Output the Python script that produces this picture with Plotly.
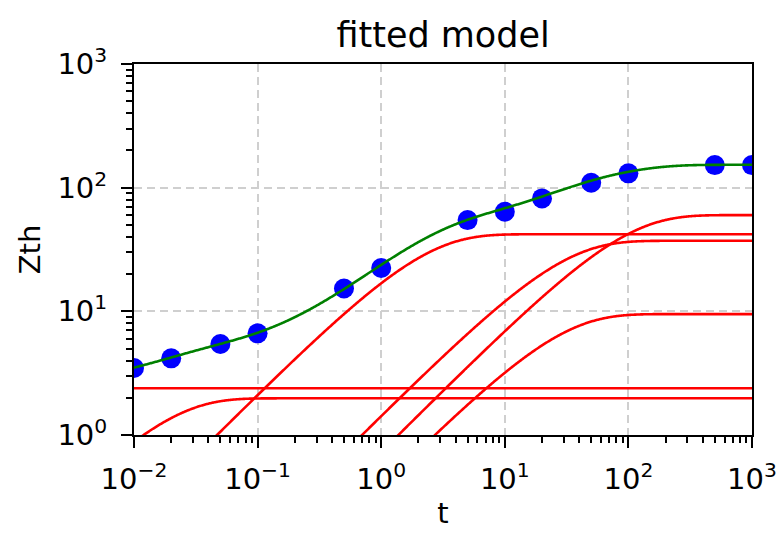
import numpy as np
import plotly.graph_objects as go

# measured data points (t, Zth)
t_data = [0.01, 0.02, 0.05, 0.1, 0.5, 1, 5, 10, 20, 50, 100, 500, 1000]
z_data = [3.48, 4.17, 5.44, 6.64, 15.3, 22.4, 54.7, 63.9, 81.9, 109.6, 130.6, 152.3, 152.3]

# fitted Foster-network components: thermal resistance R_i and time constant tau_i
R_comp = [2.385, 1.98, 42.0, 37.2, 60.0, 9.5]
tau_comp = [1e-4, 0.017, 1.95, 25.7, 82.0, 24.5]

# axis ticks
major_vals = [0.01, 0.1, 1, 10, 100, 1000]
x_ticktext = ["10<sup>−2</sup>", "10<sup>−1</sup>", "10<sup>0</sup>", "10<sup>1</sup>", "10<sup>2</sup>", "10<sup>3</sup>"]
y_vals = [1, 10, 100, 1000]
y_ticktext = ["10<sup>0</sup>", "10<sup>1</sup>", "10<sup>2</sup>", "10<sup>3</sup>"]

t_grid = np.logspace(-2, 3, 800)
components = [R * (1 - np.exp(-t_grid / tau)) for R, tau in zip(R_comp, tau_comp)]
model = np.sum(components, axis=0)

fig = go.Figure()
fig.add_trace(go.Scatter(x=t_data, y=z_data, mode="markers",
                         marker=dict(color="#0000ff", size=20, line=dict(width=0)),
                         showlegend=False))
fig.add_trace(go.Scatter(x=t_grid, y=model, mode="lines",
                         line=dict(color="#008000", width=2.6, simplify=False), showlegend=False))
for comp in components:
    fig.add_trace(go.Scatter(x=t_grid, y=comp, mode="lines",
                             line=dict(color="#ff0000", width=2.6, simplify=False), showlegend=False))

def minor_list(lo, hi):
    out = []
    for e in range(lo, hi):
        for k in range(2, 10):
            out.append(k * 10.0 ** e)
    return out

font = dict(family="DejaVu Sans", color="black")
axis_common = dict(
    type="log", ticks="outside", ticklen=11, tickwidth=2, tickcolor="black",
    showline=True, linecolor="black", linewidth=2, mirror=True,
    showgrid=True, gridcolor="#cfcfcf", gridwidth=1.5, griddash="8px,5px",
    zeroline=False, tickfont=dict(size=29, **font),
)

fig.update_layout(
    width=779, height=533,
    margin=dict(l=134, r=27, t=64, b=98),
    paper_bgcolor="white", plot_bgcolor="white",
    title=dict(text="fitted model", x=0.5688, xanchor="center", y=0.934, yanchor="middle",
               font=dict(size=35, **font)),
    xaxis=dict(range=[-2, 3], tickvals=major_vals, ticktext=x_ticktext,
               minor=dict(tickvals=minor_list(-2, 3), ticks="outside", ticklen=6,
                          tickwidth=1.5, tickcolor="black", showgrid=False),
               title=dict(text="t", font=dict(size=29, **font), standoff=8),
               ticklabelstandoff=6, automargin=False, **axis_common),
    yaxis=dict(range=[0, 3], tickvals=y_vals, ticktext=y_ticktext,
               minor=dict(tickvals=minor_list(0, 3), ticks="outside", ticklen=6,
                          tickwidth=1.5, tickcolor="black", showgrid=False),
               title=dict(text="Zth", font=dict(size=29, **font), standoff=8),
               ticklabelstandoff=8, automargin=False, **axis_common),
)

fig.write_html("out.html")
